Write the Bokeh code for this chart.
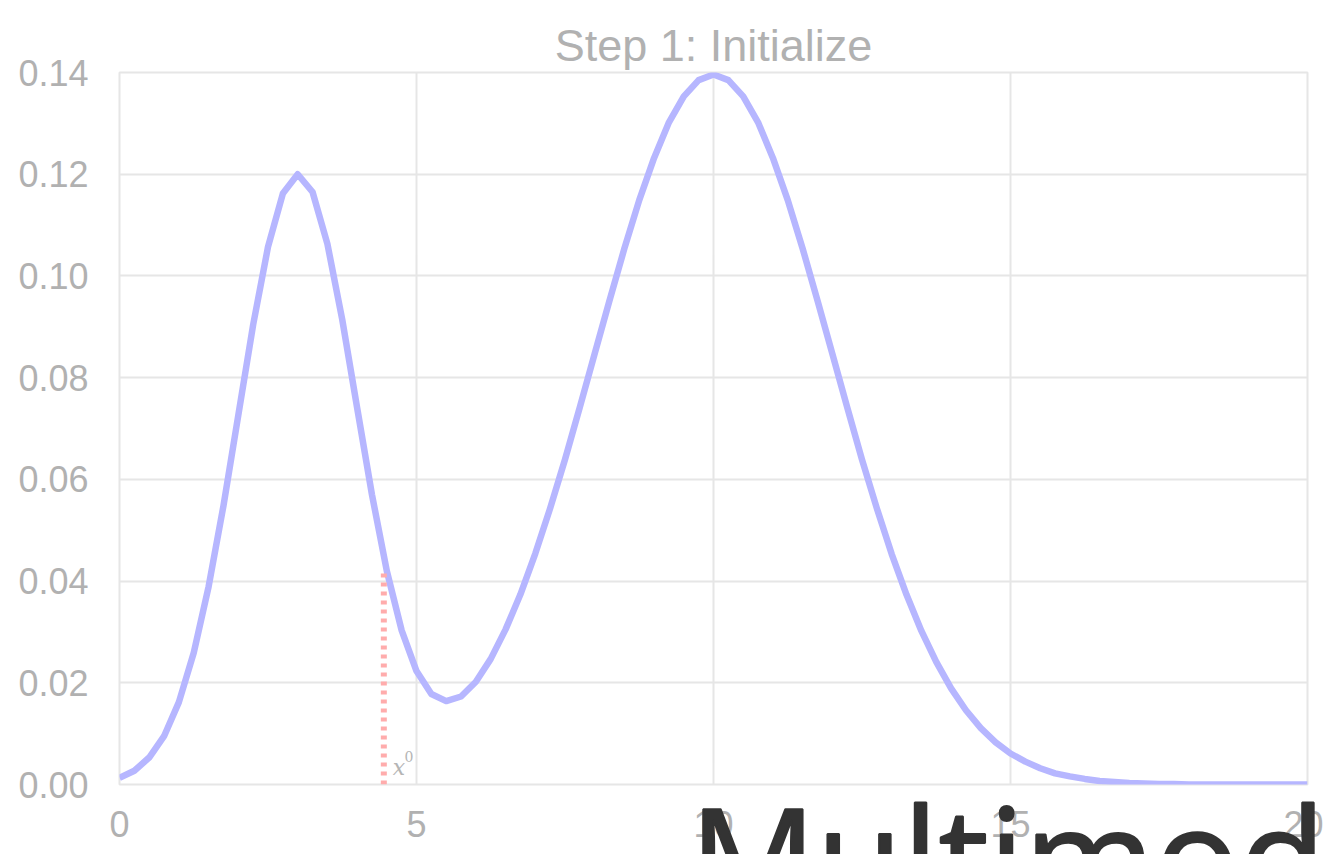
from bokeh.plotting import figure
from bokeh.models import Label, Title, FixedTicker, NumeralTickFormatter, Range1d
from bokeh.embed import file_html
from bokeh.resources import INLINE

# ---- data ----
x_vals = [0.0, 0.25, 0.5, 0.75, 1.0, 1.25, 1.5, 1.75, 2.0, 2.25, 2.5, 2.75,
          3.0, 3.25, 3.5, 3.75, 4.0, 4.25, 4.5, 4.75, 5.0, 5.25, 5.5, 5.75,
          6.0, 6.25, 6.5, 6.75, 7.0, 7.25, 7.5, 7.75, 8.0, 8.25, 8.5, 8.75,
          9.0, 9.25, 9.5, 9.75, 10.0, 10.25, 10.5, 10.75, 11.0, 11.25, 11.5, 11.75,
          12.0, 12.25, 12.5, 12.75, 13.0, 13.25, 13.5, 13.75, 14.0, 14.25, 14.5, 14.75,
          15.0, 15.25, 15.5, 15.75, 16.0, 16.25, 16.5, 16.75, 17.0, 17.25, 17.5, 17.75,
          18.0, 18.25, 18.5, 18.75, 19.0, 19.25, 19.5, 19.75, 20.0]
density = [0.0013, 0.0027, 0.0053, 0.0095, 0.0162, 0.0259, 0.0389, 0.0548, 0.0726, 0.0904, 0.1057, 0.1162,
           0.1200, 0.1165, 0.1063, 0.0914, 0.0741, 0.0570, 0.0420, 0.0303, 0.0223, 0.0178, 0.0164, 0.0173,
           0.0202, 0.0247, 0.0305, 0.0374, 0.0454, 0.0543, 0.0639, 0.0742, 0.0847, 0.0952, 0.1054, 0.1149,
           0.1232, 0.1302, 0.1353, 0.1385, 0.1396, 0.1385, 0.1353, 0.1302, 0.1232, 0.1149, 0.1054, 0.0952,
           0.0847, 0.0742, 0.0639, 0.0543, 0.0453, 0.0373, 0.0302, 0.0241, 0.0189, 0.0146, 0.0111, 0.0083,
           0.0061, 0.0045, 0.0032, 0.0022, 0.0016, 0.0011, 0.0007, 0.0005, 0.0003, 0.0002, 0.0001, 0.0001,
           0.0, 0.0, 0.0, 0.0, 0.0, 0.0, 0.0, 0.0, 0.0]
x0_pos = [4.45]
x0_height = [0.042]
x_ticks = [0, 5, 10, 15, 20]
y_ticks = [0.0, 0.02, 0.04, 0.06, 0.08, 0.10, 0.12, 0.14]
title_text = "Step 1: Initialize"
overlay_text = "Multimodal"

GRAY_TXT = "#b1b1b1"
GRID = "#e6e6e6"

p = figure(width=1323, height=854, output_backend="svg", toolbar_location=None,
           x_range=Range1d(0, 20), y_range=Range1d(0, 0.14),
           min_border_left=119, min_border_right=16, min_border_top=72, min_border_bottom=70,
           title=title_text)

p.title.align = "center"
p.title.text_font = "Liberation Sans"
p.title.text_font_size = "45px"
p.title.text_font_style = "normal"
p.title.text_color = GRAY_TXT
p.title.standoff = 4

p.outline_line_color = GRID
p.outline_line_width = 2
p.background_fill_color = "white"
p.border_fill_color = "white"

for ax in (p.xaxis[0], p.yaxis[0]):
    ax.axis_line_color = None
    ax.major_tick_line_color = None
    ax.minor_tick_line_color = None
    ax.major_tick_out = 0
    ax.major_tick_in = 0
    ax.major_label_text_color = GRAY_TXT
    ax.major_label_text_font = "Liberation Sans"
    ax.major_label_text_font_size = "36px"

p.xaxis[0].ticker = FixedTicker(ticks=x_ticks)
p.yaxis[0].ticker = FixedTicker(ticks=y_ticks)
p.yaxis[0].formatter = NumeralTickFormatter(format="0.00")
p.yaxis[0].major_label_standoff = 31
p.xaxis[0].major_label_standoff = 26
# invisible spacer below the x tick labels (keeps the big text low)
p.xaxis[0].axis_label = " "
p.xaxis[0].axis_label_text_font_size = "1px"
p.xaxis[0].axis_label_standoff = 11

p.xgrid.ticker = FixedTicker(ticks=x_ticks)
p.ygrid.ticker = FixedTicker(ticks=y_ticks)
p.grid.grid_line_color = GRID
p.grid.grid_line_width = 2

# density curve
p.line(x_vals, density, line_color="#b6b6ff", line_width=6.5, line_join="round")

# initial position marker
p.segment(x0=x0_pos, y0=[0] * len(x0_pos), x1=x0_pos, y1=x0_height,
          line_color="#ffacac", line_width=6, line_dash="4 5")

p.add_layout(Label(x=4.6, y=0.0008, text="x", text_font="DejaVu Serif",
                   text_font_style="italic", text_font_size="22px", text_color="#b5b5b5"))
p.add_layout(Label(x=4.8, y=0.0045, text="0", text_font="DejaVu Serif",
                   text_font_size="14px", text_color="#b5b5b5"))

# large overlapping slide text (a below-panel title with a small negative panel height)
big = Title(text=overlay_text, align="left", vertical_align="middle", offset=570,
            standoff=-195, text_font="Open Sans", text_font_size="141px",
            text_font_style="normal", text_color="#333333")
try:
    big.text_outline_color = "#333333"
except Exception:
    pass
p.add_layout(big, "below")

open("out.html", "w").write(file_html(p, INLINE))
